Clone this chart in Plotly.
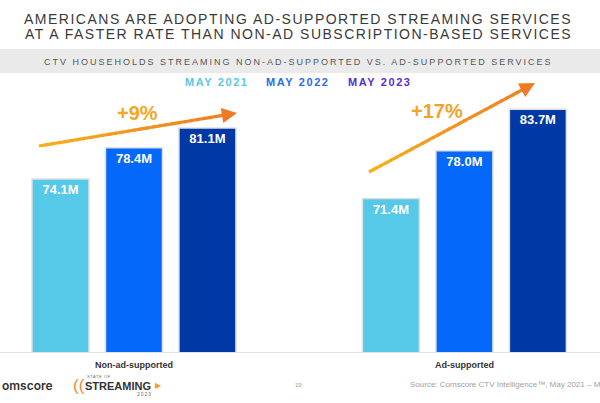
import plotly.graph_objects as go

# ---------------- data ----------------
categories = ["Non-ad-supported", "Ad-supported"]
series_names = ["MAY 2021", "MAY 2022", "MAY 2023"]
values_2021 = [74.1, 71.4]
values_2022 = [78.4, 78.0]
values_2023 = [81.1, 83.7]
growth_labels = ["+9%", "+17%"]

title_lines = ["AMERICANS ARE ADOPTING AD-SUPPORTED STREAMING SERVICES",
               "AT A FASTER RATE THAN NON-AD SUBSCRIPTION-BASED SERVICES"]
subtitle = "CTV HOUSEHOLDS STREAMING NON-AD-SUPPORTED VS. AD-SUPPORTED SERVICES"
source_text = "Source: Comscore CTV Intelligence\u2122, May 2021 \u2013 May 2023"

# ---------------- styles ----------------
bar_colors = ["#56C8E8", "#0468FA", "#0039A6"]
legend_colors = ["#5BC6EA", "#2A6BF0", "#5A2BD6"]
FONT = "Liberation Sans, Arial, sans-serif"
W, H = 600, 403


def px(x):
    return x / W


def py(y):
    return 1 - y / H


def spaced(text, s):
    return f'<span style="letter-spacing:{s}px">{text}</span>'


fig = go.Figure()
for name, vals, col in zip(series_names, [values_2021, values_2022, values_2023], bar_colors):
    fig.add_trace(go.Bar(
        x=categories, y=vals, name=name,
        marker=dict(color=col, line=dict(color="#e0e0e0", width=1.5)),
        text=[f"{v:.1f}M" for v in vals],
        textposition="inside", insidetextanchor="end", textangle=0,
        textfont=dict(family=FONT, size=13, color="white", weight="bold"),
        hoverinfo="skip",
    ))

shapes = []
annotations = []


def note(text, x, y, size, color, anchor="center", family=FONT, weight="normal"):
    annotations.append(dict(text=text, x=px(x), y=py(y), xref="paper", yref="paper",
                            xanchor=anchor, yanchor="middle", showarrow=False,
                            font=dict(family=family, size=size, color=color, weight=weight)))


# grey band behind subtitle
shapes.append(dict(type="rect", xref="paper", yref="paper", x0=0, x1=1,
                   y0=py(73), y1=py(49), fillcolor="#EAEAEA", line=dict(width=0), layer="below"))

# titles
note(spaced(title_lines[0], 1.5), 298, 19, 14, "#3a3a3a")
note(spaced(title_lines[1], 1.5), 298, 34, 14, "#3a3a3a")
note(spaced(subtitle, 2.0), 298, 62, 9, "#555555")

# legend (coloured text)
for name, col, cx in zip(series_names, legend_colors, [217, 298, 380]):
    note(spaced(name, 1.6), cx, 82, 11, col, weight="bold")


def hex2rgb(h):
    h = h.lstrip("#")
    return tuple(int(h[i:i + 2], 16) for i in (0, 2, 4))


def gradient_arrow(x0, y0, x1, y1, c0, c1, n=30):
    r0, r1 = hex2rgb(c0), hex2rgb(c1)
    L = ((x1 - x0) ** 2 + (y1 - y0) ** 2) ** 0.5
    stop = (L - 9) / L
    for i in range(n):
        t0, t1 = stop * i / n, stop * (i + 1) / n
        tm = (t0 + t1) / 2
        col = "rgb(%d,%d,%d)" % tuple(round(a + (b - a) * tm) for a, b in zip(r0, r1))
        shapes.append(dict(type="line", xref="paper", yref="paper",
                           x0=px(x0 + (x1 - x0) * t0), y0=py(y0 + (y1 - y0) * t0),
                           x1=px(x0 + (x1 - x0) * (t1 + 0.01)), y1=py(y0 + (y1 - y0) * (t1 + 0.01)),
                           line=dict(color=col, width=3.2)))
    ux, uy = (x0 - x1) / L, (y0 - y1) / L
    annotations.append(dict(text="", x=px(x1), y=py(y1), xref="paper", yref="paper",
                            showarrow=True, ax=ux * 14, ay=uy * 14, arrowcolor=c1,
                            arrowwidth=3.2, arrowhead=2, arrowsize=0.95, standoff=0))


gradient_arrow(39, 146, 237, 113, "#F7B01C", "#F07A24")
gradient_arrow(369, 172, 535, 83, "#F7B01C", "#F07A24")

note(growth_labels[0], 137, 113, 20, "#F5A623", weight="bold")
note(growth_labels[1], 437, 111, 20, "#F5A228", weight="bold")

# footer
note("omscore", 0, 385, 12, "#333333", anchor="left", family="Inter, sans-serif", weight=600)
note("((", 71, 385, 17, "#F08A3A", anchor="left")
note(spaced("STATE OF", 0.6), 85, 376, 4, "#666666", anchor="left")
note("STREAMING", 83, 385.5, 11, "#333333", anchor="left", weight="bold")
note("\u25B6", 153, 385, 8, "#F5A030", anchor="left", family="DejaVu Sans")
note(spaced("2023", 1.0), 135, 394, 5, "#666666", anchor="left")
note("19", 298, 385, 6, "#999999")
note(source_text, 408, 384, 8, "#A0A0A0", anchor="left")

fig.update_layout(
    width=W, height=H, margin=dict(l=0, r=0, t=0, b=0),
    paper_bgcolor="white", plot_bgcolor="white",
    barmode="group", bargap=0.333, bargroupgap=0.224, showlegend=False,
    xaxis=dict(range=[-0.4054, 1.4103], showgrid=False, zeroline=False, showline=True,
               linecolor="#E3E3E3", linewidth=1, ticks="", ticklabelstandoff=4,
               tickfont=dict(family=FONT, size=9, color="#333333", weight="bold"), fixedrange=True),
    yaxis=dict(domain=[1 - 352 / H, 1], range=[50.3, 98.72], visible=False, fixedrange=True),
    shapes=shapes, annotations=annotations,
)

fig.write_html("out.html")
